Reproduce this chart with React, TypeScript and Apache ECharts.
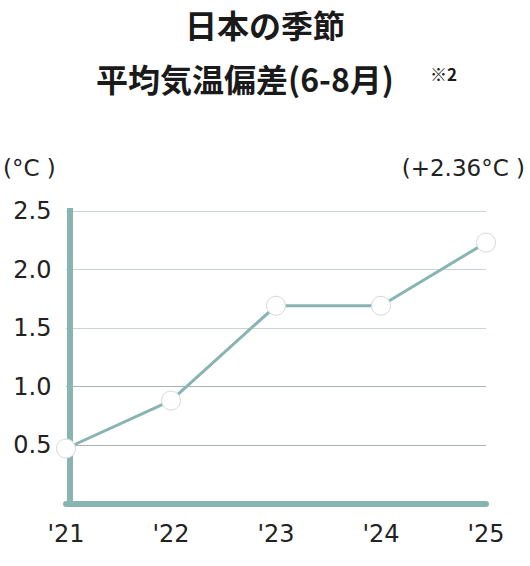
import React, { useRef, useEffect } from 'react';
import * as echarts from 'echarts';

const YEARS = ["'21", "'22", "'23", "'24", "'25"];
const ANOMALY = [0.47, 0.88, 1.69, 1.69, 2.23];
const Y_TICKS = [0, 0.5, 1.0, 1.5, 2.0, 2.5];

const TITLE_LINE_1 = '日本の季節';
const TITLE_LINE_2 = '平均気温偏差(6-8月)';
const NOTE = '※2';
const UNIT_LABEL = '(°C )';
const LAST_VALUE_LABEL = '(+2.36°C )';

const TEAL = '#88b4b2';
const NUM_FONT = 'DejaVu Sans';
const JP_FONT = '"Noto Sans CJK JP", sans-serif';

export default function App() {
  const chartRef = useRef<HTMLDivElement>(null);

  useEffect(() => {
    document.body.style.margin = '0';
    if (!chartRef.current) return;
    const chart = echarts.init(chartRef.current, undefined, { renderer: 'svg' });

    const option: echarts.EChartsOption = {
      animation: false,
      backgroundColor: '#ffffff',
      grid: { left: 66, right: 44, top: 211, bottom: 62.5 },
      xAxis: {
        type: 'category',
        data: YEARS,
        boundaryGap: false,
        axisLine: { lineStyle: { color: TEAL, width: 6 } },
        axisTick: { show: false },
        axisLabel: {
          margin: 18,
          color: '#222',
          fontSize: 24,
          fontFamily: NUM_FONT,
        },
      },
      yAxis: {
        type: 'value',
        min: Y_TICKS[0],
        max: Y_TICKS[Y_TICKS.length - 1],
        interval: 0.5,
        offset: -3.5,
        axisLine: { show: true, lineStyle: { color: TEAL, width: 6, cap: 'square' } },
        axisTick: { show: false },
        axisLabel: {
          margin: 18,
          color: '#222',
          fontSize: 24,
          fontFamily: NUM_FONT,
          formatter: (v: number) => (v === 0 ? '' : v.toFixed(1)),
        },
        splitLine: {
          lineStyle: {
            color: ['#a9b4b3', '#a9b4b3', '#a9b4b3', '#c6d6d4', '#c6d6d4', '#c6d6d4'],
            width: 1.2,
          },
        },
      },
      series: [
        {
          type: 'line',
          data: ANOMALY,
          lineStyle: { color: TEAL, width: 3 },
          symbol: 'circle',
          symbolSize: 19,
          itemStyle: { color: '#ffffff', borderColor: '#d4dad9', borderWidth: 1 },
          z: 5,
        },
      ],
      graphic: [
        {
          type: 'text',
          x: 265,
          y: 24,
          style: {
            text: TITLE_LINE_1,
            font: `bold 32px ${JP_FONT}`,
            fill: '#1a1a1a',
            align: 'center',
            verticalAlign: 'middle',
          },
        },
        {
          type: 'text',
          x: 245,
          y: 78,
          style: {
            text: TITLE_LINE_2,
            font: `bold 32px ${JP_FONT}`,
            fill: '#1a1a1a',
            align: 'center',
            verticalAlign: 'middle',
          },
        },
        {
          type: 'text',
          x: 430,
          y: 73,
          style: {
            text: NOTE,
            font: `bold 17px ${JP_FONT}`,
            fill: '#1a1a1a',
            align: 'left',
            verticalAlign: 'middle',
          },
        },
        {
          type: 'text',
          x: 3,
          y: 168,
          style: {
            text: UNIT_LABEL,
            font: `23px ${NUM_FONT}`,
            fill: '#222',
            align: 'left',
            verticalAlign: 'middle',
          },
        },
        {
          type: 'text',
          x: 525,
          y: 168,
          style: {
            text: LAST_VALUE_LABEL,
            font: `23px ${NUM_FONT}`,
            fill: '#222',
            align: 'right',
            verticalAlign: 'middle',
          },
        },
      ],
    };

    chart.setOption(option);
    return () => chart.dispose();
  }, []);

  return <div ref={chartRef} style={{ width: 530, height: 566 }} />;
}
